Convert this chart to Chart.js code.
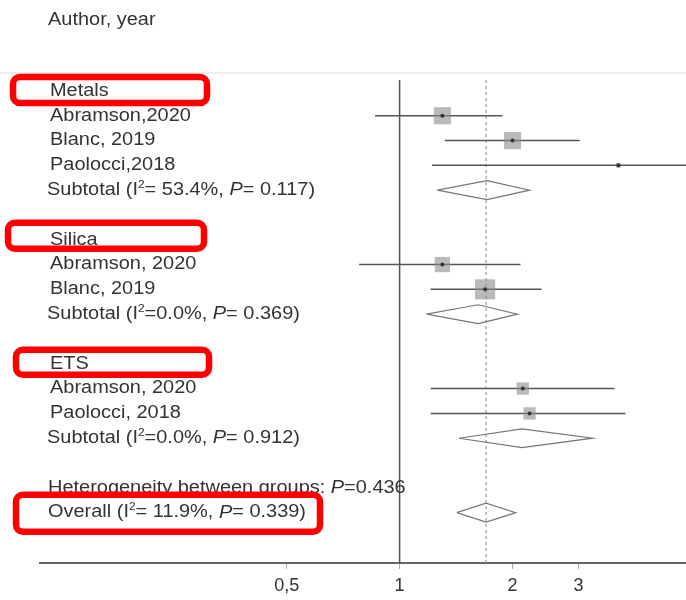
<!DOCTYPE html>
<html>
<head>
<meta charset="utf-8">
<script src="https://cdn.jsdelivr.net/npm/chart.js@4"></script>
<style>
  body { margin: 0; background: #fff; }
  canvas { display: block; }
</style>
</head>
<body>
<canvas id="forest" width="686" height="600"></canvas>
<script>
// rows are counted from the first group header (row 0) downwards
const groupNames = ['Metals', 'Silica', 'ETS'];
const groupRows = [0, 6, 11];

const studyNames = ['Abramson,2020', 'Blanc, 2019', 'Paolocci,2018', 'Abramson, 2020', 'Blanc, 2019', 'Abramson, 2020', 'Paolocci, 2018'];
const studyRows = [1, 2, 3, 7, 8, 12, 13];
const studyEst = [1.30, 2.00, 3.83, 1.30, 1.69, 2.13, 2.22];
const studyLow = [0.86, 1.32, 1.22, 0.78, 1.21, 1.21, 1.21];
const studyHigh = [1.88, 3.02, 7.50, 2.10, 2.39, 3.74, 4.00];
const studyWeight = [14.5, 14.5, 1.2, 11.5, 20.0, 7.5, 7.5];

const subRows = [4, 9, 14];
const subEst = [1.71, 1.62, 2.12];
const subLow = [1.26, 1.18, 1.44];
const subHigh = [2.22, 2.06, 3.27];
const subI2 = [' 53.4%', '0.0%', '0.0%'];
const subP = ['0.117', '0.369', '0.912'];

const hetRow = 16;
const hetP = '0.436';
const overallRow = 17;
const overallEst = 1.70;
const overallLow = 1.42;
const overallHigh = 2.04;
const overallI2 = ' 11.9%';
const overallP = '0.339';

const xTicks = [0.5, 1, 2, 3];
const xTickLabels = ['0,5', '1', '2', '3'];

const Y_MIN = -0.44, Y_MAX = 19.03;
const FONT = '"Liberation Sans", Arial, sans-serif';
const TEXT = '#333';

const datasets = [];

// centre dots on top
datasets.push({
  type: 'scatter',
  data: studyEst.map((v, i) => ({ x: v, y: studyRows[i] })),
  pointRadius: 2,
  pointBackgroundColor: '#333',
  pointBorderWidth: 0,
});
// weight squares
datasets.push({
  type: 'scatter',
  data: studyEst.map((v, i) => ({ x: v, y: studyRows[i] })),
  pointStyle: 'rect',
  pointRadius: studyWeight.map(w => 4.5 * Math.sqrt(w) / 1.414),
  pointBackgroundColor: 'rgba(140,140,140,0.6)',
  pointBorderWidth: 0,
});
// confidence intervals
studyEst.forEach((v, i) => {
  datasets.push({
    type: 'line',
    data: [{ x: studyLow[i], y: studyRows[i] }, { x: studyHigh[i], y: studyRows[i] }],
    borderColor: '#555',
    borderWidth: 1.5,
    pointRadius: 0,
  });
});
// diamonds
const diamond = (lo, est, hi, row) => ({
  type: 'line',
  data: [
    { x: lo, y: row }, { x: est, y: row - 0.38 }, { x: hi, y: row },
    { x: est, y: row + 0.38 }, { x: lo, y: row },
  ],
  borderColor: '#777',
  borderWidth: 1.2,
  pointRadius: 0,
  tension: 0,
  fill: false,
});
subEst.forEach((v, i) => datasets.push(diamond(subLow[i], v, subHigh[i], subRows[i])));
datasets.push(diamond(overallLow, overallEst, overallHigh, overallRow));
// overall dashed line and line of no effect
datasets.push({
  type: 'line',
  data: [{ x: overallEst, y: Y_MIN }, { x: overallEst, y: Y_MAX }],
  borderColor: '#999',
  borderWidth: 1.2,
  borderDash: [3, 3],
  pointRadius: 0,
});
datasets.push({
  type: 'line',
  data: [{ x: 1, y: Y_MIN }, { x: 1, y: Y_MAX }],
  borderColor: '#555',
  borderWidth: 1.5,
  pointRadius: 0,
});

// text in the source is a little wider than it is tall
const STRETCH = 1.14;

function drawRuns(ctx, runs, x, y, size) {
  runs.forEach(r => {
    const s = r.sup ? size * 0.6 : size;
    ctx.font = (r.i ? 'italic ' : '') + s + 'px ' + FONT;
    ctx.save();
    ctx.translate(x, r.sup ? y - size * 0.3 : y);
    ctx.scale(STRETCH, 1);
    ctx.fillText(r.t, 0, 0);
    ctx.restore();
    x += ctx.measureText(r.t).width * STRETCH;
  });
}

function statRuns(head, i2, p) {
  return [
    { t: head + ' (I' }, { t: '2', sup: true }, { t: '=' + i2 + ', ' },
    { t: 'P', i: true }, { t: '= ' + p + ')' },
  ];
}

function roundBox(ctx, x0, y0, x1, y1, r) {
  ctx.beginPath();
  ctx.moveTo(x0 + r, y0);
  ctx.arcTo(x1, y0, x1, y1, r);
  ctx.arcTo(x1, y1, x0, y1, r);
  ctx.arcTo(x0, y1, x0, y0, r);
  ctx.arcTo(x0, y0, x1, y0, r);
  ctx.closePath();
  ctx.stroke();
}

const labelsPlugin = {
  id: 'forestLabels',
  afterDraw(chart) {
    const ctx = chart.ctx;
    const y = chart.scales.y;
    const size = 17.5;
    ctx.save();
    ctx.fillStyle = TEXT;
    ctx.textBaseline = 'middle';
    ctx.textAlign = 'left';

    // faint rule under the header
    ctx.strokeStyle = '#eee';
    ctx.lineWidth = 2;
    ctx.beginPath();
    ctx.moveTo(0, 73);
    ctx.lineTo(686, 73);
    ctx.stroke();

    drawRuns(ctx, [{ t: 'Author, year' }], 48, 20, size);
    groupNames.forEach((g, i) => drawRuns(ctx, [{ t: g }], 50, y.getPixelForValue(groupRows[i]), size));
    studyNames.forEach((s, i) => drawRuns(ctx, [{ t: s }], 50, y.getPixelForValue(studyRows[i]), size));
    subRows.forEach((r, i) => drawRuns(ctx, statRuns('Subtotal', subI2[i], subP[i]), 47, y.getPixelForValue(r), size));
    drawRuns(ctx, [{ t: 'Heterogeneity between groups: ' }, { t: 'P', i: true }, { t: '=' + hetP }], 48, y.getPixelForValue(hetRow), size);
    drawRuns(ctx, statRuns('Overall', overallI2, overallP), 48, y.getPixelForValue(overallRow), size);

    // red highlight boxes: left, right, row, offset above, offset below
    ctx.strokeStyle = '#ff0000';
    ctx.lineWidth = 6.5;
    const boxes = [
      [13, 207, groupRows[0], 14, 12],
      [8, 204, groupRows[1], 17, 9],
      [16, 209, groupRows[2], 14, 11],
      [16, 320, overallRow, 18, 19],
    ];
    boxes.forEach(([x0, x1, row, up, down]) => {
      const py = y.getPixelForValue(row);
      roundBox(ctx, x0, py - up, x1, py + down, 7);
    });
    ctx.restore();
  },
};

new Chart(document.getElementById('forest'), {
  data: { datasets },
  options: {
    responsive: false,
    animation: false,
    devicePixelRatio: 1,
    layout: { autoPadding: false, padding: { top: 80, left: 40, right: 0, bottom: 0 } },
    plugins: { legend: { display: false }, tooltip: { enabled: false } },
    scales: {
      x: {
        type: 'logarithmic',
        position: 'bottom',
        min: 0.11,
        max: 5.8,
        afterBuildTicks: s => { s.ticks = xTicks.map(v => ({ value: v })); },
        afterFit: s => { s.height = 37; },
        ticks: {
          autoSkip: false,
          maxRotation: 0,
          color: '#333',
          padding: 6,
          font: { family: FONT, size: 18 },
          callback: (v) => xTickLabels[xTicks.indexOf(v)],
        },
        grid: { drawOnChartArea: false, drawTicks: true, tickLength: 6, color: '#aaa' },
        border: { color: '#666', width: 2 },
      },
      y: {
        type: 'linear',
        reverse: true,
        min: Y_MIN,
        max: Y_MAX,
        display: false,
      },
    },
  },
  plugins: [labelsPlugin],
});
</script>
</body>
</html>
